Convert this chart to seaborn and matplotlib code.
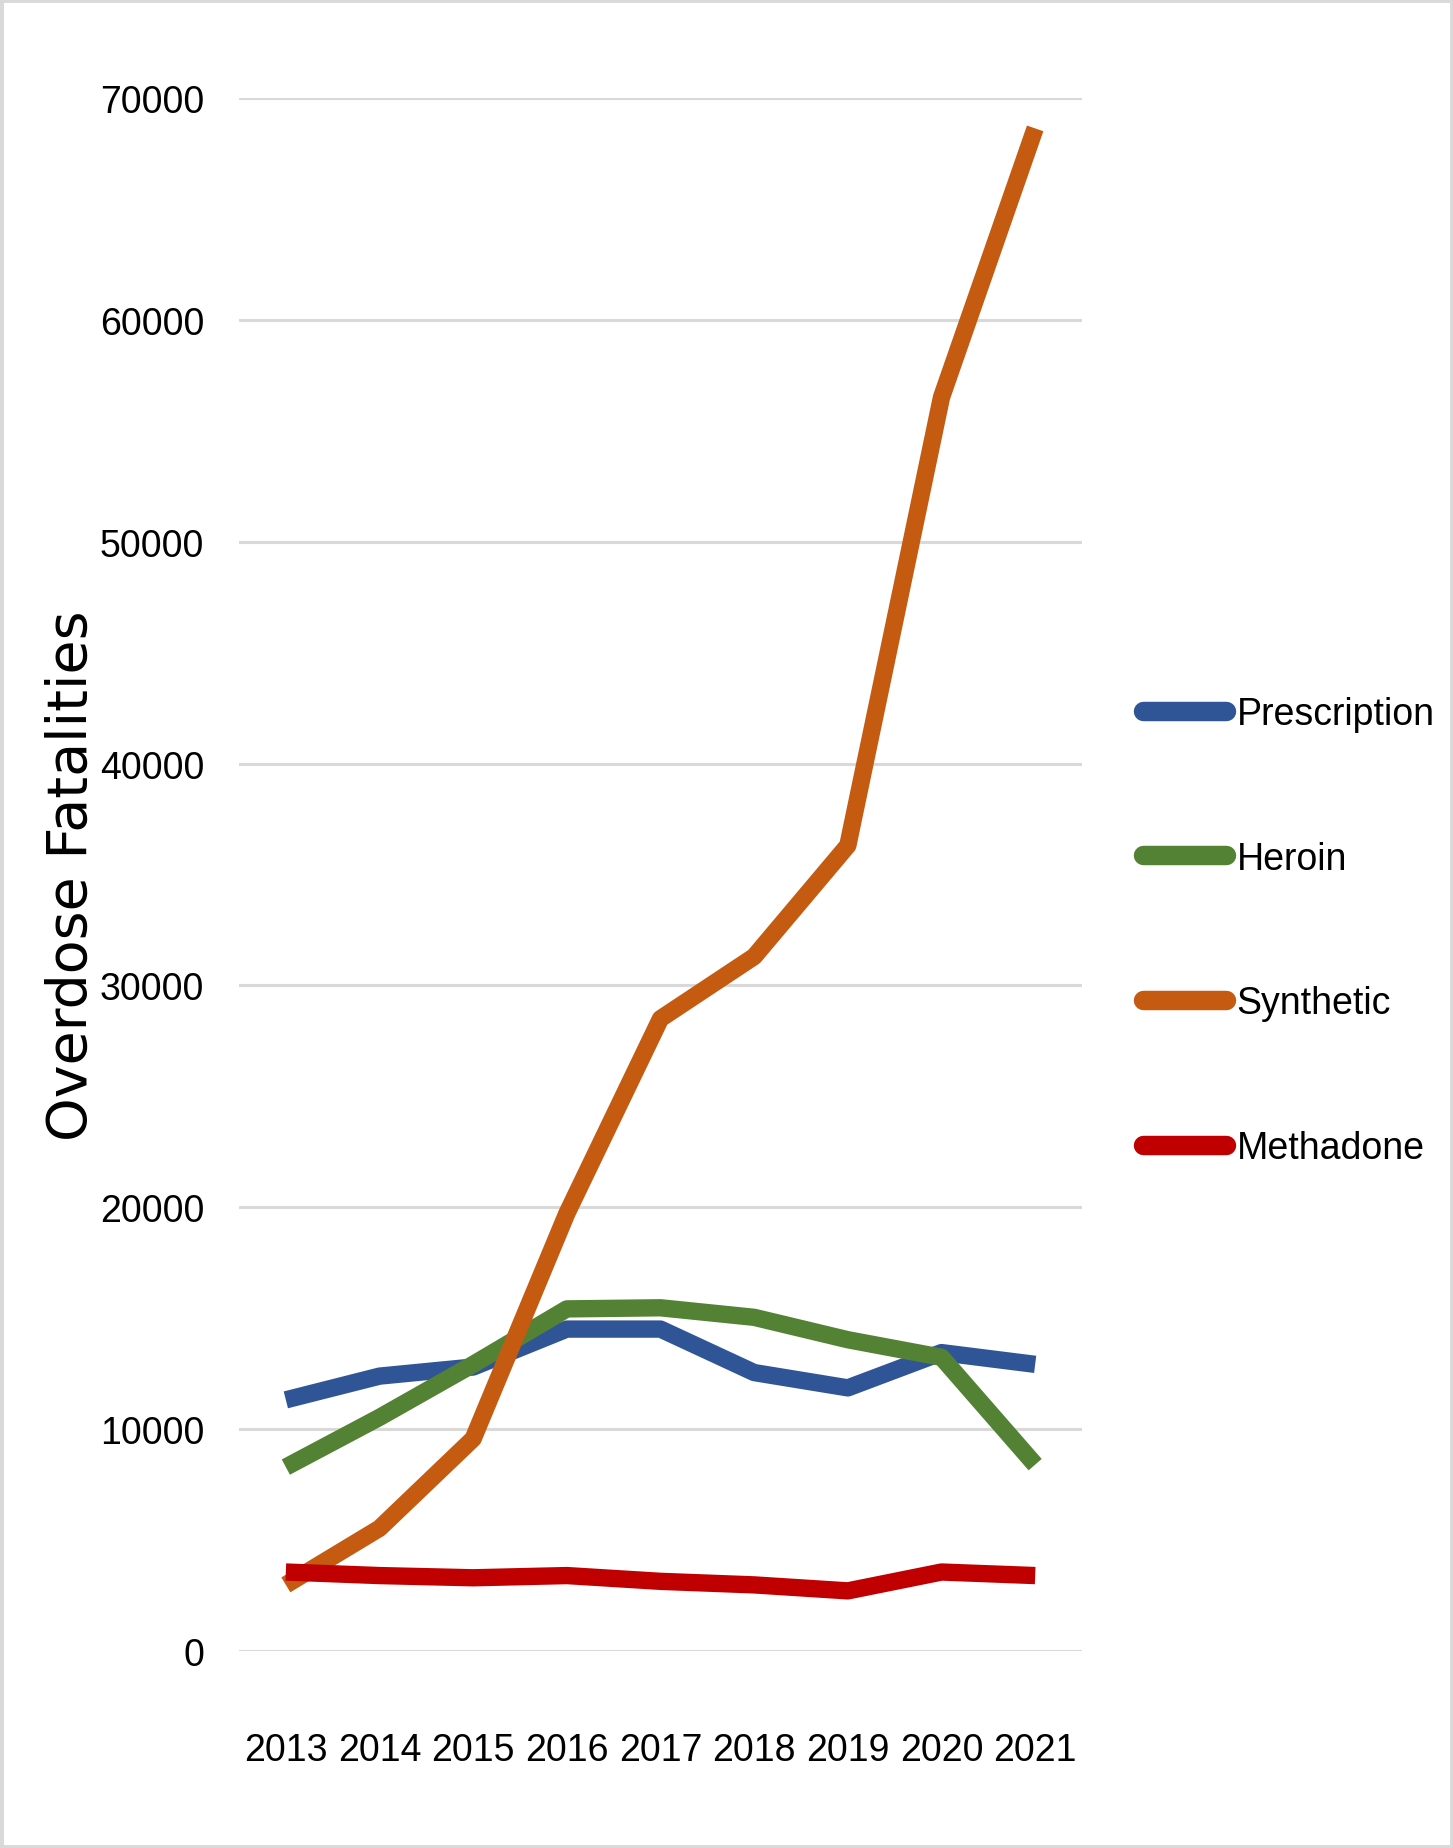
import pandas as pd
import matplotlib.pyplot as plt
from matplotlib.patches import Rectangle
import seaborn as sns

# Datos
years = ["2013", "2014", "2015", "2016", "2017", "2018", "2019", "2020", "2021"]
prescription = [11320, 12390, 12800, 14510, 14510, 12550, 11860, 13450, 12920]
heroin = [8290, 10530, 12920, 15420, 15470, 15040, 14030, 13240, 8400]
synthetic = [2980, 5530, 9570, 19720, 28500, 31300, 36310, 56510, 68630]
methadone = [3560, 3400, 3300, 3400, 3140, 2980, 2710, 3560, 3400]

series = {"Prescription": prescription, "Heroin": heroin,
          "Synthetic": synthetic, "Methadone": methadone}
colors = {"Prescription": "#2F5597", "Heroin": "#548235",
          "Synthetic": "#C55A11", "Methadone": "#C00000"}

df = pd.DataFrame([(y, name, v) for name, vals in series.items()
                   for y, v in zip(years, vals)],
                  columns=["Year", "Type", "Deaths"])

sns.set_style("white")
plt.rcParams["font.family"] = ["Liberation Sans", "DejaVu Sans"]
plt.rcParams["text.color"] = "black"

fig = plt.figure(figsize=(14.53, 18.49), dpi=100)
ax = fig.add_axes([239 / 1453, 1 - 1652 / 1849, 843 / 1453, 1553 / 1849])

sns.lineplot(data=df, x="Year", y="Deaths", hue="Type", palette=colors,
             hue_order=list(series.keys()), linewidth=12.5, ax=ax,
             sort=False, solid_capstyle="butt")

ax.set_xlim(-0.5, len(years) - 0.5)
ax.set_ylim(0, 70000)
ax.set_yticks(range(0, 70001, 10000))
ax.grid(axis="y", color="#D9D9D9", linewidth=2.2)
ax.grid(axis="x", visible=False)
ax.set_axisbelow(True)
for s in ax.spines.values():
    s.set_visible(False)
ax.tick_params(axis="both", length=0, labelsize=27, colors="black")
ax.tick_params(axis="y", pad=25)
ax.tick_params(axis="x", pad=58)

ax.set_xlabel("")
ax.set_ylabel("Overdose Fatalities", fontsize=40, family="DejaVu Sans",
              color="black", va="center")
ax.yaxis.set_label_coords(-0.198, 0.5)

leg = ax.legend(loc="center left", bbox_to_anchor=(1143 / 1453, 0.496),
                bbox_transform=fig.transFigure, frameon=False, fontsize=27,
                handlelength=2.2, handletextpad=0.3, labelspacing=2.9,
                borderpad=0, borderaxespad=0)
for line in leg.get_lines():
    line.set_linewidth(14)
    line.set_solid_capstyle("round")
for t in leg.get_texts():
    t.set_color("black")

fig.patches.append(Rectangle((0, 0), 1, 1, transform=fig.transFigure,
                             fill=False, edgecolor="#D9D9D9", linewidth=5))

fig.savefig("out.png", dpi=100)
plt.close()
